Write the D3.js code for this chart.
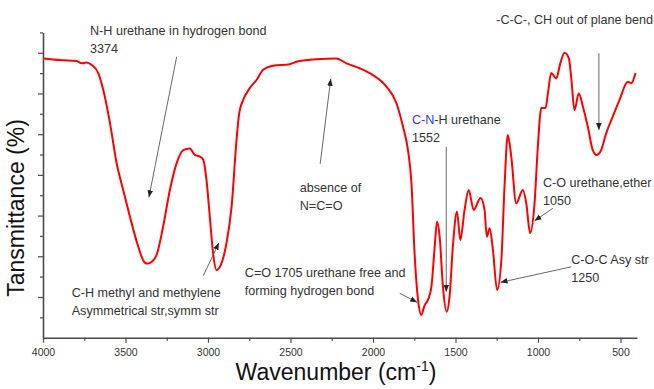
<!DOCTYPE html>
<html>
<head>
<meta charset="utf-8">
<script src="https://cdn.jsdelivr.net/npm/d3@7"></script>
<style>
  html, body { margin: 0; padding: 0; background: #fff; }
  svg { display: block; font-family: "Liberation Sans", Arial, sans-serif; }
</style>
</head>
<body>
<svg id="chart" width="654" height="389"></svg>
<script>
const wavenumber = [
    3998, 3897, 3796, 3766, 3735, 3705, 3665, 3635, 3594, 3554,
    3514, 3473, 3423, 3390, 3374, 3352, 3312, 3272, 3231, 3190,
    3150, 3110, 3080, 3049, 3029, 3009, 2989, 2969, 2948, 2918,
    2888, 2857, 2827, 2811, 2787, 2747, 2706, 2666, 2606, 2504,
    2464, 2343, 2222, 2161, 2081, 2000, 1919, 1858, 1818, 1788,
    1767, 1748, 1727, 1707, 1687, 1667, 1646, 1626, 1612, 1596,
    1576, 1554, 1536, 1516, 1491, 1471, 1445, 1420, 1390, 1348,
    1324, 1310, 1293, 1273, 1248, 1222, 1203, 1183, 1162, 1132,
    1092, 1071, 1048, 1021, 1001, 980, 954, 940, 920, 889,
    865, 839, 813, 799, 779, 753, 728, 698, 668, 644,
    617, 587, 547, 506, 456, 435, 409
];
const transmittance = [
    6.86, 6.82, 6.80, 6.74, 6.76, 6.70, 6.50, 6.09, 5.27, 4.29,
    3.63, 2.97, 2.24, 1.88, 1.82, 1.84, 2.03, 2.73, 3.63, 4.29,
    4.61, 4.65, 4.49, 4.45, 4.37, 3.87, 2.97, 2.07, 1.66, 1.83,
    2.32, 3.22, 4.86, 5.51, 5.84, 6.13, 6.33, 6.58, 6.68, 6.72,
    6.78, 6.84, 6.86, 6.74, 6.62, 6.45, 6.17, 5.76, 5.18, 4.61,
    3.80, 2.07, 0.93, 0.56, 0.80, 0.93, 1.25, 2.24, 2.85, 2.48,
    1.25, 0.64, 1.01, 2.24, 3.10, 2.40, 3.14, 3.63, 3.14, 3.43,
    3.14, 2.48, 2.69, 2.15, 1.17, 1.91, 3.71, 4.98, 4.45, 3.30,
    3.63, 3.30, 2.57, 3.30, 4.69, 5.64, 5.64, 6.00, 6.50, 6.37,
    6.74, 7.00, 6.86, 6.41, 5.59, 6.00, 5.68, 5.18, 4.61, 4.49,
    4.61, 5.02, 5.43, 5.84, 6.29, 6.25, 6.50
];

const xMajorTicks = [4000, 3500, 3000, 2500, 2000, 1500, 1000, 500];
const xMinorTicks = [3750, 3250, 2750, 2250, 1750, 1250, 750];
const yMajorTicks = [1, 2, 3, 4, 5, 6, 7];
const yMinorTicks = [0.5, 1.5, 2.5, 3.5, 4.5, 5.5, 6.5, 7.5];

// band labels: text lines, label anchor and arrow (tail -> head) in data units
const annotations = [
    { lines: ['N-H urethane in hydrogen bond', '3374'], at: [3715, 7.44], from: [3190, 6.90], to: [3358, 3.45] },
    { lines: ['absence of', 'N=C=O'], at: [2444, 3.59], from: [2320, 4.27], to: [2256, 6.36] },
    { lines: ['C-H methyl and methylene', 'Asymmetrical str,symm str'], at: [3826, 0.99], from: [3029, 1.52], to: [2934, 2.33] },
    { lines: ['C=O 1705 urethane free and', 'forming hydrogen bond'], at: [2777, 1.48], from: [1838, 1.09], to: [1733, 0.87] },
    { lines: ['C-N-H urethane', '1552'], at: [1764, 5.25], from: [1556, 4.69], to: [1556, 1.13], blue: 'C-N' },
    { lines: ['C-O urethane,ether', '1050'], at: [970, 3.71], from: [910, 3.18], to: [1021, 2.87] },
    { lines: ['C-O-C Asy str', '1250'], at: [799, 1.81], from: [799, 1.74], to: [1227, 1.36] },
    { lines: ['-C-C-, CH out of plane bend'], at: [1253, 7.71], from: [631, 6.99], to: [631, 5.10] }
];

const spectrum = wavenumber.map((w, i) => ({ w, t: transmittance[i] }));

// ——— Scales ———
const svg = d3.select('#chart');
const x = d3.scaleLinear().domain([4000, 400]).range([43, 637]);
const y = d3.scaleLinear().domain([0, 7.5]).range([337.7, 32.4]);

const axisColor = '#4a4a4a';
const textColor = '#333';

// ——— Axes ———
const gx = svg.append('g').attr('transform', `translate(0,${y(0)})`)
    .call(d3.axisBottom(x).tickValues(xMajorTicks).tickSize(5).tickSizeOuter(0)
        .tickPadding(6).tickFormat(d3.format('d')));
const gxMinor = svg.append('g').attr('transform', `translate(0,${y(0)})`)
    .call(d3.axisBottom(x).tickValues(xMinorTicks).tickSize(3).tickFormat(''));
gxMinor.select('.domain').remove();

const gy = svg.append('g').attr('transform', `translate(${x(4000)},0)`)
    .call(d3.axisLeft(y).tickValues(yMajorTicks).tickSize(5).tickSizeOuter(0).tickFormat(''));
const gyMinor = svg.append('g').attr('transform', `translate(${x(4000)},0)`)
    .call(d3.axisLeft(y).tickValues(yMinorTicks).tickSize(3).tickFormat(''));
gyMinor.select('.domain').remove();

[gx, gxMinor, gy, gyMinor].forEach(g => {
    g.selectAll('.domain').attr('stroke', axisColor).attr('stroke-width', 1.6);
    g.selectAll('.tick line').attr('stroke', axisColor).attr('stroke-width', 1.2);
});
gx.selectAll('.tick text')
    .attr('fill', textColor).attr('font-size', '10.5px')
    .attr('font-family', '"Liberation Sans", Arial, sans-serif');

// axis titles
const xTitle = svg.append('text')
    .attr('x', 336).attr('y', 380)
    .attr('text-anchor', 'middle')
    .attr('font-size', '23px').attr('fill', '#111');
xTitle.append('tspan').text('Wavenumber (cm');
xTitle.append('tspan').attr('font-size', '14px').attr('dy', '-9').text('-1');
xTitle.append('tspan').attr('dy', '9').text(')');

svg.append('text')
    .attr('transform', 'translate(24,208) rotate(-90)')
    .attr('text-anchor', 'middle')
    .attr('font-size', '23px').attr('fill', '#111')
    .text('Tansmittance (%)');

// ——— Spectrum ———
const line = d3.line()
    .x(d => x(d.w))
    .y(d => y(d.t))
    .curve(d3.curveMonotoneX);

svg.append('path')
    .datum(spectrum)
    .attr('fill', 'none')
    .attr('stroke', '#ff0000')
    .attr('stroke-width', 2)
    .attr('stroke-linejoin', 'round')
    .attr('d', line);

// ——— Annotations ———
svg.append('defs').append('marker')
    .attr('id', 'arrowHead')
    .attr('viewBox', '0 0 10 10')
    .attr('refX', 10).attr('refY', 5)
    .attr('markerWidth', 7).attr('markerHeight', 7)
    .attr('markerUnits', 'userSpaceOnUse')
    .attr('orient', 'auto')
    .append('path')
    .attr('d', 'M0,1 L10,5 L0,9 Z')
    .attr('fill', '#222');

const ann = svg.append('g');
annotations.forEach(a => {
    ann.append('line')
        .attr('x1', x(a.from[0])).attr('y1', y(a.from[1]))
        .attr('x2', x(a.to[0])).attr('y2', y(a.to[1]))
        .attr('stroke', '#555').attr('stroke-width', 0.9)
        .attr('marker-end', 'url(#arrowHead)');

    const t = ann.append('text')
        .attr('x', x(a.at[0])).attr('y', y(a.at[1]))
        .attr('font-size', '12.6px').attr('fill', textColor);
    a.lines.forEach((ln, i) => {
        const ts = t.append('tspan').attr('x', x(a.at[0])).attr('dy', i === 0 ? 0 : 18);
        if (i === 0 && a.blue && ln.startsWith(a.blue)) {
            ts.append('tspan').attr('fill', '#2b3bff').text(a.blue);
            ts.append('tspan').text(ln.slice(a.blue.length));
        } else {
            ts.text(ln);
        }
    });
});
</script>
</body>
</html>
